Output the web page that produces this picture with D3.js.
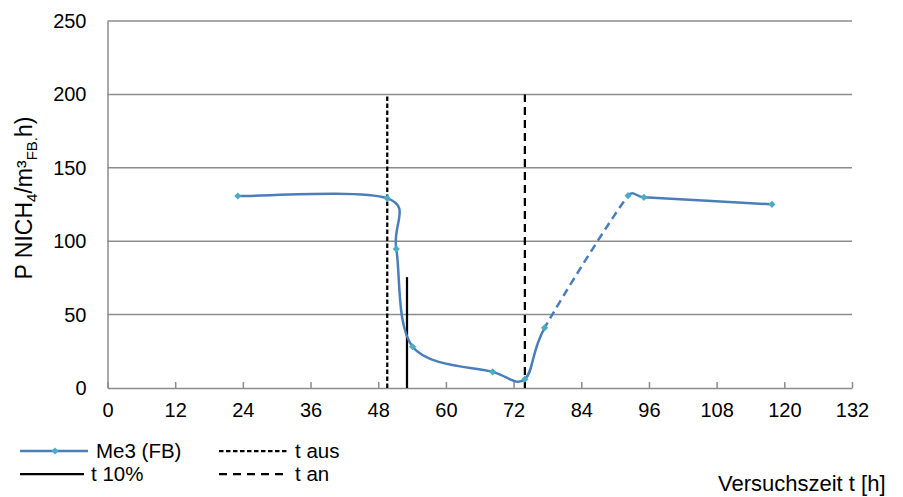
<!DOCTYPE html>
<html><head><meta charset="utf-8">
<script src="https://cdn.jsdelivr.net/npm/d3@7"></script>
<style>body{margin:0;background:#fff}svg{display:block;font-family:"Liberation Sans",Arial,sans-serif}</style>
</head><body>
<svg id="c" width="903" height="497"></svg>
<script>
const timeH = [23.1, 49.6, 51.2, 54.1, 68.3, 74.0, 77.5, 92.3, 95.1, 117.8];
const me3 = [130.8, 129.2, 94.7, 28.1, 11, 6, 41, 131, 129.9, 125.1];
const dashedSegment = [6, 7]; // indexes of points joined by dashed segment
const tAus = 49.6, tAn = 74.0, t10 = 53.1;
const tAusRange = [0, 200], tAnRange = [0, 200], t10Range = [0, 75.5];
const xTicks = [0, 12, 24, 36, 48, 60, 72, 84, 96, 108, 120, 132];
const yTicks = [0, 50, 100, 150, 200, 250];

const svg = d3.select("#c");
const x = d3.scaleLinear().domain([0, 132]).range([107.5, 852]);
const y = d3.scaleLinear().domain([0, 250]).range([388, 21]);
const gridCol = "#8c8c8c";
const FONT = "Liberation Sans, Arial, sans-serif";

// gridlines
svg.append("g").selectAll("line").data(yTicks.filter(d => d > 0)).join("line")
  .attr("x1", x(0)).attr("x2", x(132)).attr("y1", d => y(d)).attr("y2", d => y(d))
  .attr("stroke", gridCol).attr("stroke-width", 1.5);

// y axis
const yAx = svg.append("g").attr("transform", `translate(${x(0)},0)`)
  .call(d3.axisLeft(y).tickValues(yTicks).tickSize(0).tickPadding(21));
yAx.select(".domain").attr("stroke", gridCol).attr("stroke-width", 1.5);
yAx.selectAll("text").attr("font-size", 20).attr("fill", "#000").attr("font-family", FONT);

// x axis (ticks inward)
const xAx = svg.append("g").attr("transform", `translate(0,${y(0)})`)
  .call(d3.axisBottom(x).tickValues(xTicks).tickSize(-6).tickSizeOuter(0).tickPadding(15));
xAx.select(".domain").attr("stroke", gridCol).attr("stroke-width", 1.5);
xAx.selectAll(".tick line").attr("stroke", gridCol).attr("stroke-width", 1.5);
xAx.selectAll("text").attr("font-size", 20).attr("fill", "#000").attr("font-family", FONT);

// smoothed path (Excel-like Bezier smoothing) built with d3.path
function smoothPath(points) {
  const P = points.map(d => [x(d[0]), y(d[1])]);
  const p = d3.path();
  const f = 1 / 6;
  const dist = (a, b) => Math.hypot(b[0] - a[0], b[1] - a[1]);
  p.moveTo(P[0][0], P[0][1]);
  for (let i = 0; i < P.length - 1; i++) {
    const p0 = P[Math.max(i - 1, 0)], p1 = P[i], p2 = P[i + 1], p3 = P[Math.min(i + 2, P.length - 1)];
    const d12 = dist(p1, p2);
    let t1 = [(p2[0] - p0[0]) * f, (p2[1] - p0[1]) * f];
    let t2 = [(p3[0] - p1[0]) * f, (p3[1] - p1[1]) * f];
    const l1 = Math.hypot(...t1), l2 = Math.hypot(...t2), cap = d12 / 2;
    if (l1 > cap) t1 = t1.map(v => v * cap / l1);
    if (l2 > cap) t2 = t2.map(v => v * cap / l2);
    p.bezierCurveTo(p1[0] + t1[0], p1[1] + t1[1], p2[0] - t2[0], p2[1] - t2[1], p2[0], p2[1]);
  }
  return p.toString();
}

const pts = timeH.map((t, i) => [t, me3[i]]);
const xa = x(timeH[dashedSegment[0]]), xb = x(timeH[dashedSegment[1]]);
const defs = svg.append("defs");
defs.append("clipPath").attr("id", "solidClip").append("path")
  .attr("d", `M0,0H${xa}V497H0Z M${xb},0H903V497H${xb}Z`);
defs.append("clipPath").attr("id", "dashClip").append("rect")
  .attr("x", xa).attr("y", 0).attr("width", xb - xa).attr("height", 497);

// t aus / t an / t10
svg.append("line").attr("x1", x(tAus)).attr("x2", x(tAus)).attr("y1", y(tAusRange[0])).attr("y2", y(tAusRange[1]))
  .attr("stroke", "#000").attr("stroke-width", 2.25).attr("stroke-dasharray", "4.5,2.5");
svg.append("line").attr("x1", x(tAn)).attr("x2", x(tAn)).attr("y1", y(tAnRange[0])).attr("y2", y(tAnRange[1]))
  .attr("stroke", "#000").attr("stroke-width", 2.25).attr("stroke-dasharray", "8,5");
svg.append("line").attr("x1", x(t10)).attr("x2", x(t10)).attr("y1", y(t10Range[0])).attr("y2", y(t10Range[1]))
  .attr("stroke", "#000").attr("stroke-width", 2.25);

const blue = "#4a7ebb", aqua = "#4bacc6";
const dStr = smoothPath(pts);
svg.append("path").attr("d", dStr).attr("fill", "none").attr("stroke", blue)
  .attr("stroke-width", 2.5).attr("clip-path", "url(#solidClip)");
svg.append("path").attr("d", dStr).attr("fill", "none").attr("stroke", blue)
  .attr("stroke-width", 2.5).attr("stroke-dasharray", "8,5").attr("clip-path", "url(#dashClip)");
const diamond = d3.symbol().type(d3.symbolSquare).size(26);
svg.append("g").selectAll("path").data(pts).join("path")
  .attr("transform", d => `translate(${x(d[0])},${y(d[1])}) rotate(45)`).attr("d", diamond).attr("fill", aqua);

// y title
const yt = svg.append("text").attr("transform", "translate(32,198) rotate(-90)")
  .attr("text-anchor", "middle").attr("font-size", 23).attr("fill", "#000");
yt.append("tspan").text("P NICH");
yt.append("tspan").attr("font-size", 15).attr("dy", 5).text("4");
yt.append("tspan").attr("dy", -5).text("/m³");
yt.append("tspan").attr("font-size", 15).attr("dy", 5).text("FB.");
yt.append("tspan").attr("dy", -5).text("h)");

// x title
svg.append("text").attr("x", 718).attr("y", 491).attr("font-size", 22).attr("fill", "#000").text("Versuchszeit t [h]");

// legend
const leg = svg.append("g").attr("font-size", 20.5).attr("fill", "#000");
leg.append("line").attr("x1", 20).attr("x2", 88).attr("y1", 451).attr("y2", 451).attr("stroke", blue).attr("stroke-width", 2.5);
leg.append("path").attr("transform", "translate(55,451) rotate(45)").attr("d", diamond).attr("fill", aqua);
leg.append("text").attr("x", 96).attr("y", 458).text("Me3 (FB)");
leg.append("line").attr("x1", 20).attr("x2", 84).attr("y1", 474).attr("y2", 474).attr("stroke", "#000").attr("stroke-width", 2.25);
leg.append("text").attr("x", 91).attr("y", 481).text("t 10%");
leg.append("line").attr("x1", 219).attr("x2", 287).attr("y1", 451).attr("y2", 451).attr("stroke", "#000").attr("stroke-width", 2.25).attr("stroke-dasharray", "4.5,2.5");
leg.append("text").attr("x", 295).attr("y", 458).text("t aus");
leg.append("line").attr("x1", 219).attr("x2", 283).attr("y1", 474).attr("y2", 474).attr("stroke", "#000").attr("stroke-width", 2.25).attr("stroke-dasharray", "8,6");
leg.append("text").attr("x", 295).attr("y", 481).text("t an");
</script>
</body></html>
